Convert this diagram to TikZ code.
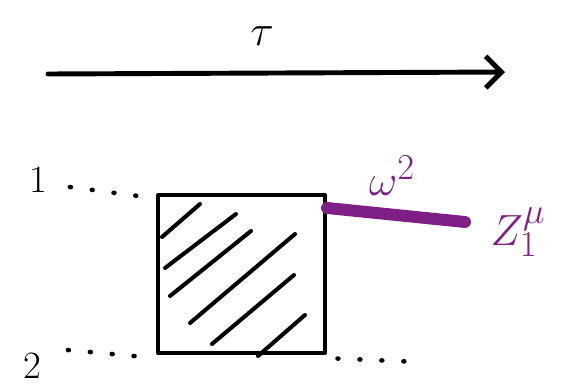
\documentclass[tikz,border=0pt]{standalone}
\usepackage{tikz}
\usetikzlibrary{arrows.meta,positioning}

\definecolor{prop}{HTML}{7E1F86}

\begin{document}
\begin{tikzpicture}[
    x=0.02cm, y=-0.02cm,
    pen/.style={line width=2.3pt, line cap=round, line join=round},
    dots/.style={line width=2.6pt, line cap=round, dash pattern=on 0.5pt off 12pt},
    lab/.style={inner sep=0pt, font=\fontsize{22}{26}\selectfont},
    big/.style={inner sep=0pt, font=\fontsize{48}{54}\selectfont},
    plab/.style={inner sep=0pt, text=prop, font=\fontsize{28}{32}\selectfont}
  ]
    \useasboundingbox (0,0) rectangle (562,389);

    % time axis
    \coordinate (tstart) at (48,74);
    \coordinate (tend) at (505,72);
    \draw[pen, line width=2.8pt, -{Straight Barb[length=9pt, width=18pt, line width=2.8pt]}] (tstart) -- (tend);
    \node[big] (tau) at (262,36) {$\tau$};

    % blob
    \node[pen, draw, minimum width=167*0.02cm, minimum height=158*0.02cm, inner sep=0pt] (blob) at (241.5,274) {};
    \foreach \a/\b/\c/\d in {162/237/200/204, 165/268/236/214, 170/296/251/231,
                             190/323/295/234, 212/344/294/275, 258/356/305/315} {
      \draw[pen] (\a,\b) -- (\c,\d);
    }

    % external legs
    \node[lab] (one) at (38,180) {1};
    \node[lab] (two) at (32,366) {2};
    \coordinate (l1) at (70,187);
    \coordinate (l2) at (68,350);
    \coordinate (r2) at (420,362);
    \draw[dots] (l1) -- ([xshift=-8pt, yshift=-2pt]blob.north west);
    \draw[dots] (l2) -- ([xshift=-8pt, yshift=-1pt]blob.south west);
    \draw[dots] ([xshift=6pt, yshift=-2pt]blob.south east) -- (r2);

    % emitted leg
    \coordinate (zstart) at ([yshift=-0.3cm]blob.north east);
    \coordinate (zend) at (465,222);
    \draw[line width=6.8pt, line cap=round, prop] (zstart) -- (zend);
    \node[plab] (omega) at (392,176) {$\omega^2$};
    \node[plab] (zmu) at (518,232) {$Z_1^\mu$};
  \end{tikzpicture}
\end{document}
